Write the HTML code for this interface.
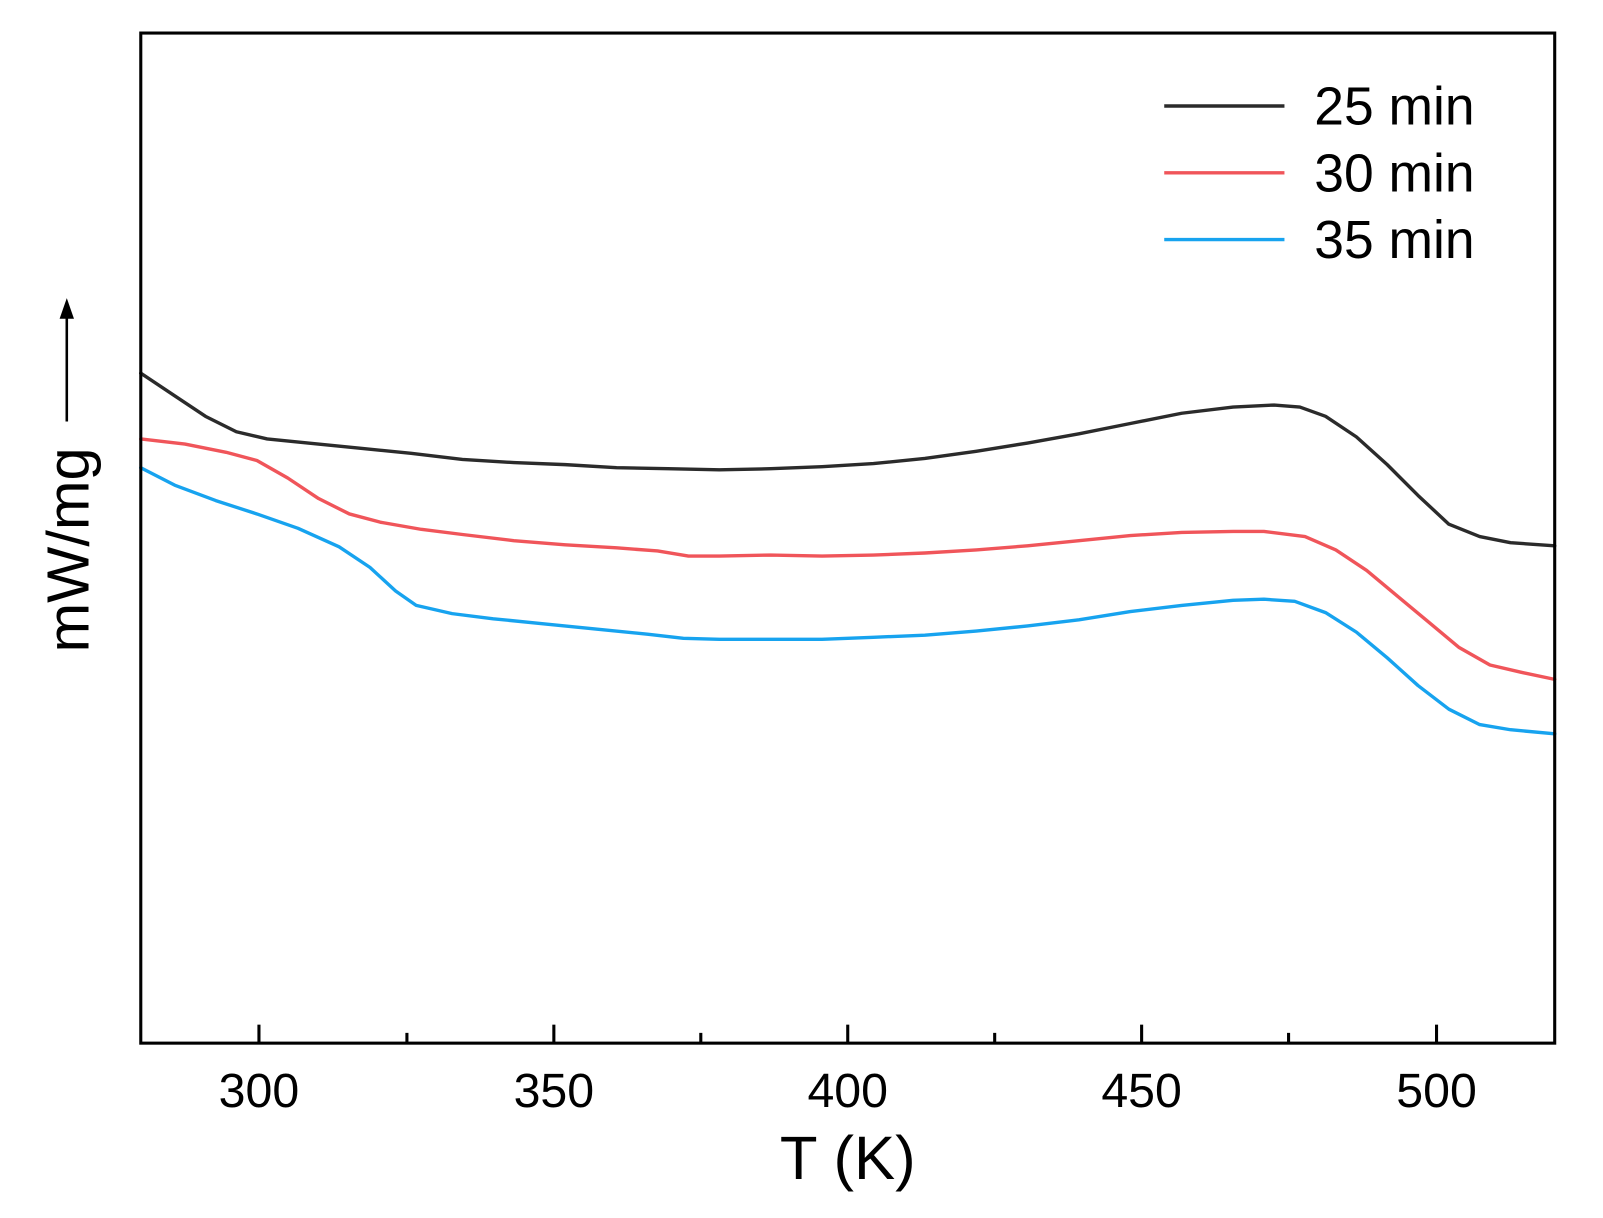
<!DOCTYPE html>
<html><head><style>html,body{margin:0;padding:0;background:#fff}svg{display:block}</style></head><body>
<svg width="1603" height="1218" viewBox="0 0 1560 1185" xmlns="http://www.w3.org/2000/svg" font-family="Liberation Sans, Arial, sans-serif">
<rect x="0" y="0" width="1560" height="1185" fill="#fff"/>
<g fill="none" stroke-width="3.3" stroke-linejoin="round" stroke-linecap="round">
<polyline stroke="#2b2b2b" points="137,363 170,385 200,405 230,420 260,427 300,431 350,436 400,441 450,447 500,450 550,452 600,455 650,456 700,457 750,456 800,454 850,451 900,446 950,439 1000,431 1050,422 1100,412 1150,402 1200,396 1240,394 1265,396 1290,405 1320,425 1350,452 1380,482 1410,510 1440,522 1470,528 1513,531"/>
<polyline stroke="#f0555a" points="137,427 180,432 220,440 250,448 280,465 310,485 340,500 370,508 410,515 450,520 500,526 550,530 600,533 640,536 670,541 700,541 750,540 800,541 850,540 900,538 950,535 1000,531 1050,526 1100,521 1150,518 1200,517 1230,517 1270,522 1300,535 1330,555 1360,580 1390,605 1420,630 1450,647 1480,654 1513,661"/>
<polyline stroke="#17a3ef" points="137,455 170,472 210,487 250,500 290,514 330,532 360,552 385,575 405,589 440,597 480,602 530,607 580,612 630,617 665,621 700,622 750,622 800,622 850,620 900,618 950,614 1000,609 1050,603 1100,595 1150,589 1200,584 1230,583 1260,585 1290,596 1320,615 1350,640 1380,667 1410,690 1440,705 1470,710 1513,714"/>
</g>
<rect x="137" y="32" width="1376" height="983" fill="none" stroke="#000" stroke-width="3"/>
<g stroke="#000" stroke-width="3">
<line x1="252" y1="1015" x2="252" y2="997"/><line x1="539" y1="1015" x2="539" y2="997"/><line x1="825" y1="1015" x2="825" y2="997"/><line x1="1111" y1="1015" x2="1111" y2="997"/><line x1="1398" y1="1015" x2="1398" y2="997"/>
<line x1="396" y1="1015" x2="396" y2="1005"/><line x1="682" y1="1015" x2="682" y2="1005"/><line x1="968" y1="1015" x2="968" y2="1005"/><line x1="1254" y1="1015" x2="1254" y2="1005"/>
</g>
<g font-size="47" text-anchor="middle" fill="#000">
<text x="252" y="1077">300</text><text x="539" y="1077">350</text><text x="825" y="1077">400</text><text x="1111" y="1077">450</text><text x="1398" y="1077">500</text>
</g>
<text x="825" y="1147" font-size="60" text-anchor="middle">T (K)</text>
<text transform="translate(86,535) rotate(-90)" font-size="58" text-anchor="middle">mW/mg</text>
<line x1="65" y1="410" x2="65" y2="305" stroke="#000" stroke-width="2.5"/>
<polygon points="65,290 58,310 72,310" fill="#000"/>
<g stroke-width="3.3">
<line x1="1133" y1="103" x2="1250" y2="103" stroke="#2b2b2b"/>
<line x1="1133" y1="168" x2="1250" y2="168" stroke="#f0555a"/>
<line x1="1133" y1="233" x2="1250" y2="233" stroke="#17a3ef"/>
</g>
<g font-size="52" fill="#000">
<text x="1279" y="121">25 min</text><text x="1279" y="186">30 min</text><text x="1279" y="251">35 min</text>
</g>
</svg>
</body></html>
